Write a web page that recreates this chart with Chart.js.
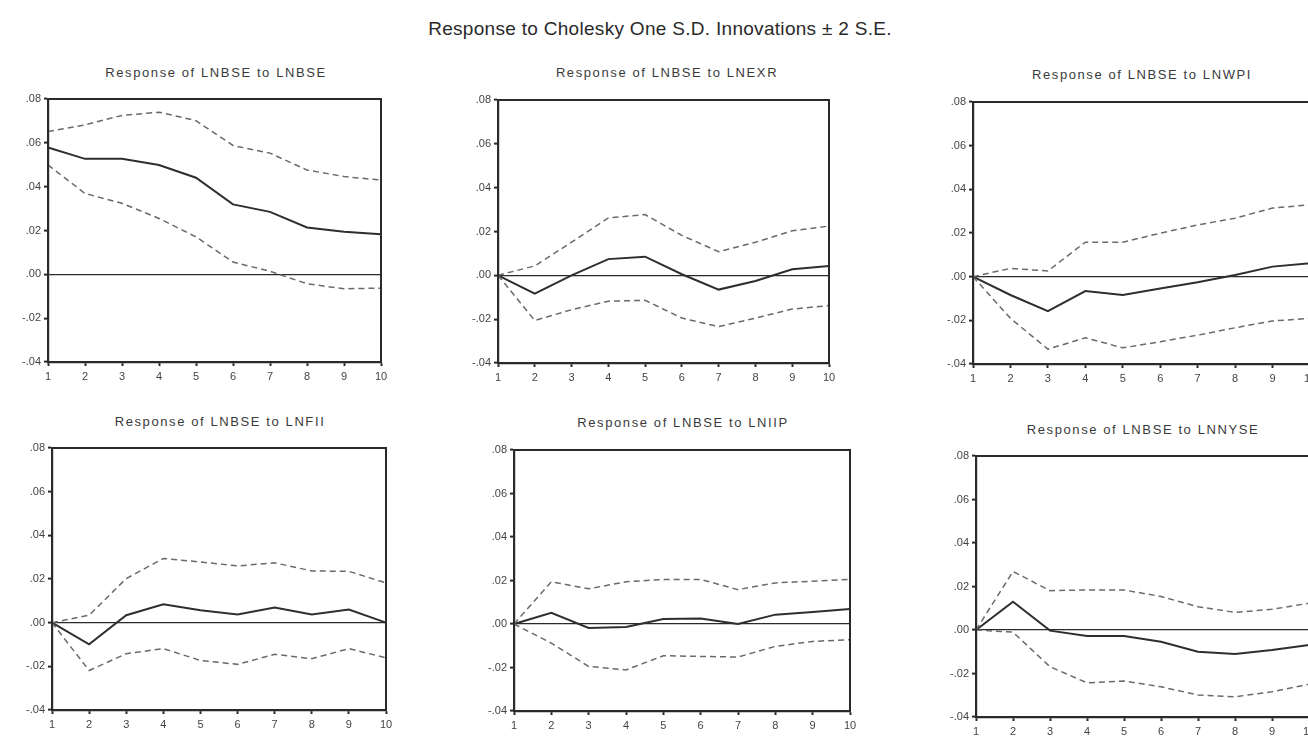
<!DOCTYPE html>
<html>
<head>
<meta charset="utf-8">
<title>Response to Cholesky One S.D. Innovations</title>
<script src="https://cdn.jsdelivr.net/npm/chart.js@4"></script>
<style>
  body { margin: 0; width: 1308px; height: 736px; overflow: hidden; background: #fff; position: relative;
         font-family: "Liberation Sans", Arial, sans-serif; }
  .main-title { position: absolute; top: 18px; left: 660px; transform: translateX(-50%); white-space: nowrap;
                font-size: 19px; color: #2a2a2a; letter-spacing: 0.3px; }
  .panel-title { position: absolute; transform: translateX(-50%); white-space: nowrap;
                 font-size: 13px; color: #3a3a3a; letter-spacing: 1.6px; }
  canvas { position: absolute; }
</style>
</head>
<body>
<div class="main-title">Response to Cholesky One S.D. Innovations ± 2 S.E.</div>

<script>
// horizon (periods)
const periods = [1, 2, 3, 4, 5, 6, 7, 8, 9, 10];
const yTickValues = [-0.04, -0.02, 0, 0.02, 0.04, 0.06, 0.08];

// LNBSE -> LNBSE
const bseResp  = [0.0579, 0.0527, 0.0527, 0.0499, 0.0441, 0.0319, 0.0285, 0.0214, 0.0194, 0.0183];
const bseUpper = [0.0652, 0.0682, 0.0725, 0.0740, 0.0701, 0.0588, 0.0553, 0.0476, 0.0446, 0.0430];
const bseLower = [0.0499, 0.0369, 0.0324, 0.0255, 0.0171, 0.0056, 0.0014, -0.0043, -0.0066, -0.0063];

// LNBSE -> LNEXR
const exrResp  = [0, -0.0083, 0, 0.0074, 0.0085, 0.0005, -0.0065, -0.0026, 0.0028, 0.0043];
const exrUpper = [0, 0.0043, 0.0151, 0.0262, 0.0277, 0.0182, 0.0108, 0.0151, 0.0203, 0.0225];
const exrLower = [0, -0.0206, -0.0157, -0.0118, -0.0114, -0.0195, -0.0234, -0.0195, -0.0154, -0.0138];

// LNBSE -> LNWPI
const wpiResp  = [0, -0.0084, -0.0158, -0.0066, -0.0084, -0.0054, -0.0026, 0.0008, 0.0046, 0.0061];
const wpiUpper = [0, 0.0038, 0.0026, 0.0158, 0.0158, 0.0199, 0.0237, 0.0268, 0.0314, 0.0329];
const wpiLower = [0, -0.0191, -0.0332, -0.0280, -0.0326, -0.0298, -0.0268, -0.0234, -0.0203, -0.0191];

// LNBSE -> LNFII
const fiiResp  = [0, -0.0099, 0.0034, 0.0084, 0.0057, 0.0037, 0.0069, 0.0037, 0.0060, 0];
const fiiUpper = [0, 0.0034, 0.0202, 0.0294, 0.0278, 0.0260, 0.0274, 0.0237, 0.0235, 0.0182];
const fiiLower = [0, -0.0219, -0.0142, -0.0119, -0.0173, -0.0191, -0.0145, -0.0165, -0.0119, -0.0161];

// LNBSE -> LNIIP
const iipResp  = [0, 0.0051, -0.0018, -0.0014, 0.0023, 0.0025, 0, 0.0043, 0.0055, 0.0069];
const iipUpper = [0, 0.0194, 0.0162, 0.0194, 0.0205, 0.0205, 0.0158, 0.0189, 0.0197, 0.0205];
const iipLower = [0, -0.0088, -0.0195, -0.0211, -0.0146, -0.0149, -0.0152, -0.0103, -0.0080, -0.0072];

// LNBSE -> LNNYSE
const nyseResp  = [0, 0.0130, -0.0003, -0.0028, -0.0028, -0.0054, -0.0100, -0.0110, -0.0092, -0.0069];
const nyseUpper = [0, 0.0269, 0.0181, 0.0184, 0.0184, 0.0154, 0.0107, 0.0081, 0.0095, 0.0123];
const nyseLower = [0, -0.0010, -0.0169, -0.0243, -0.0235, -0.0261, -0.0299, -0.0307, -0.0284, -0.0249];

// plot-area boxes (left, top, right, bottom) and title centres
const panels = [
  { title: 'Response of LNBSE to LNBSE',  resp: bseResp,  upper: bseUpper,  lower: bseLower,  box: [48, 99, 381, 362],   tx: 216,  ty: 65 },
  { title: 'Response of LNBSE to LNEXR',  resp: exrResp,  upper: exrUpper,  lower: exrLower,  box: [498, 100, 829, 363], tx: 667,  ty: 65 },
  { title: 'Response of LNBSE to LNWPI',  resp: wpiResp,  upper: wpiUpper,  lower: wpiLower,  box: [973, 102, 1310, 364], tx: 1142, ty: 67 },
  { title: 'Response of LNBSE to LNFII',  resp: fiiResp,  upper: fiiUpper,  lower: fiiLower,  box: [52, 448, 386, 710],  tx: 220,  ty: 414 },
  { title: 'Response of LNBSE to LNIIP',  resp: iipResp,  upper: iipUpper,  lower: iipLower,  box: [514, 450, 850, 711], tx: 683,  ty: 415 },
  { title: 'Response of LNBSE to LNNYSE', resp: nyseResp, upper: nyseUpper, lower: nyseLower, box: [976, 456, 1309, 717], tx: 1143, ty: 422 }
];

const PAD_L = 45, PAD_T = 10, PAD_R = 15, PAD_B = 26;

function fmtTick(v) {
  if (Math.abs(v) < 1e-9) return '.00';
  const s = Math.abs(v).toFixed(2).replace(/^0/, '');
  return (v < 0 ? '-' : '') + s;
}

// box round the plot area
const frame = {
  id: 'frame',
  afterDatasetsDraw(chart) {
    const { ctx, chartArea: a } = chart;
    ctx.save();
    ctx.strokeStyle = '#2a2a2a';
    ctx.lineWidth = 2;
    ctx.strokeRect(a.left, a.top, a.right - a.left, a.bottom - a.top);
    ctx.restore();
  }
};

const tickFont = { family: '"Liberation Sans", Arial, sans-serif', size: 11 };

panels.forEach((p) => {
  const [L, T, R, B] = p.box;

  const t = document.createElement('div');
  t.className = 'panel-title';
  t.textContent = p.title;
  t.style.left = p.tx + 'px';
  t.style.top = p.ty + 'px';
  document.body.appendChild(t);

  const cv = document.createElement('canvas');
  cv.width = (R - L) + PAD_L + PAD_R;
  cv.height = (B - T) + PAD_T + PAD_B;
  cv.style.left = (L - PAD_L) + 'px';
  cv.style.top = (T - PAD_T) + 'px';
  document.body.appendChild(cv);

  new Chart(cv, {
    type: 'line',
    data: {
      labels: periods,
      datasets: [
        { data: p.upper, borderColor: '#6a6a6a', borderWidth: 1.5, borderDash: [6, 4] },
        { data: p.lower, borderColor: '#6a6a6a', borderWidth: 1.5, borderDash: [6, 4] },
        { data: p.resp, borderColor: '#2e2e2e', borderWidth: 2 }
      ]
    },
    options: {
      responsive: false,
      animation: false,
      layout: { padding: { left: 0, top: PAD_T, right: PAD_R, bottom: 0 } },
      elements: { point: { radius: 0 }, line: { tension: 0 } },
      plugins: { legend: { display: false }, tooltip: { enabled: false } },
      scales: {
        x: {
          type: 'category',
          offset: false,
          border: { display: true, color: '#2a2a2a', width: 2.2 },
          grid: { color: 'rgba(0,0,0,0)', tickColor: '#2a2a2a', tickWidth: 2, tickLength: 4, drawTicks: true },
          ticks: { font: tickFont, color: '#444', padding: 4, maxRotation: 0, autoSkip: false },
          afterFit(scale) { scale.height = PAD_B; scale.paddingLeft = 0; scale.paddingRight = 0; }
        },
        y: {
          min: yTickValues[0],
          max: yTickValues[yTickValues.length - 1],
          border: { display: true, color: '#2a2a2a', width: 2.2 },
          grid: {
            color: (c) => (Math.abs(c.tick.value) < 1e-9 ? '#2a2a2a' : 'rgba(0,0,0,0)'),
            lineWidth: 1.2,
            tickColor: '#2a2a2a',
            tickWidth: 2,
            tickLength: 4,
            drawTicks: true
          },
          afterBuildTicks(scale) { scale.ticks = yTickValues.map((v) => ({ value: v })); },
          ticks: { font: tickFont, color: '#444', padding: 3, callback: (v) => fmtTick(v) },
          afterFit(scale) { scale.width = PAD_L; scale.paddingTop = 0; scale.paddingBottom = 0; }
        }
      }
    },
    plugins: [frame]
  });
});
</script>
</body>
</html>
